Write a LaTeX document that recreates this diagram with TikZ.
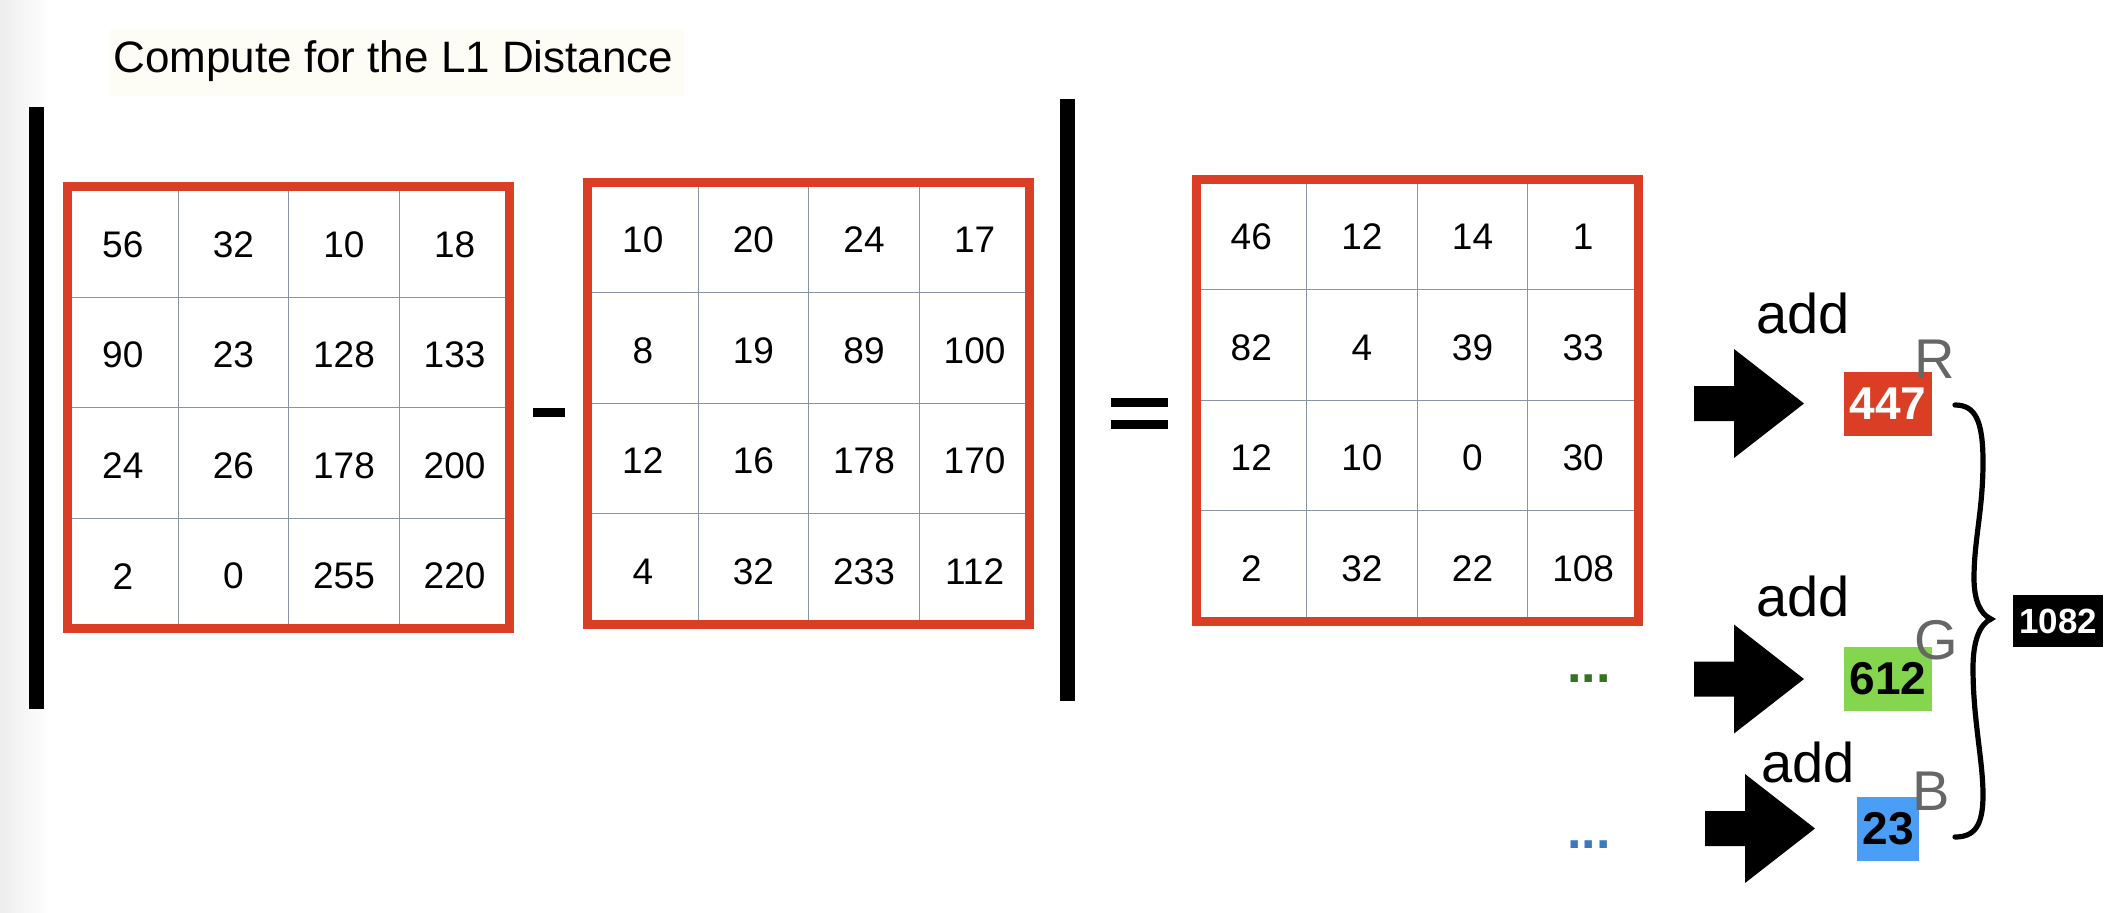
\documentclass[tikz,border=0pt]{standalone}
\usepackage{fontspec}
\setmainfont{Liberation Sans}
\definecolor{mred}{HTML}{DA3F26}
\definecolor{gridc}{HTML}{8A95A4}
\definecolor{boxgreen}{HTML}{84D64E}
\definecolor{boxblue}{HTML}{4A9EF5}
\definecolor{dotgreen}{HTML}{347320}
\definecolor{dotblue}{HTML}{3A78C0}
\definecolor{lblgray}{HTML}{666666}
\definecolor{titlebg}{HTML}{FDFDF5}
\tikzset{
  cellnum/.style={inner sep=0pt, font=\fontsize{18.5}{22}\selectfont},
  gridline/.style={gridc, line width=0.6pt},
  redframe/.style={mred, line width=4.5pt},
  addlbl/.style={inner sep=0pt, anchor=base west, font=\fontsize{28}{32}\selectfont},
  chlbl/.style={inner sep=0pt, anchor=base west, text=lblgray, font=\fontsize{28}{32}\selectfont},
  valbox/.style={inner sep=0pt, font=\bfseries\fontsize{23}{26}\selectfont},
  dotslbl/.style={inner sep=0pt, anchor=base west, font=\bfseries\fontsize{26}{30}\selectfont},
}
\newcommand\mymatrix[4]{%
  \foreach \k in {1,2,3}{%
    \draw[gridline] ({#2+\k*110.6},#3) -- ({#2+\k*110.6},{#3+442.4});
    \draw[gridline] (#2,{#3+\k*110.6}) -- ({#2+442.4},{#3+\k*110.6});
  }
  \foreach \v [count=\i from 0] in {#4}{%
    \pgfmathtruncatemacro\rr{floor(\i/4)}%
    \pgfmathtruncatemacro\cc{\i-4*\rr}%
    \node[cellnum] (#1-\rr-\cc) at ({#2+(\cc+0.5)*110.6},{#3+(\rr+0.5)*110.6+2.5}) {\v};
  }
  \draw[redframe] (#2,#3) rectangle ({#2+442.4},{#3+442.4});
}
\newcommand\blockarrow[2]{%
  \fill (#1,{#2-17.5}) -- ({#1+40},{#2-17.5}) -- ({#1+40},{#2-54.5}) -- ({#1+110},#2)
     -- ({#1+40},{#2+54.5}) -- ({#1+40},{#2+17.5}) -- (#1,{#2+17.5}) -- cycle;
}
\begin{document}
\begin{tikzpicture}[x=0.5pt,y=-0.5pt]
\useasboundingbox (0,0) rectangle (2110,912);
\fill[white] (0,0) rectangle (2110,912);
\shade[left color=black!7, right color=white] (0,0) rectangle (50,912);

% title
\fill[titlebg] (110,30) rectangle (684,96);
\node[inner sep=0pt, anchor=base west, font=\fontsize{22}{26}\selectfont] (title) at (113,72.5) {Compute for the L1 Distance};

% absolute value bars
\fill (28.5,106.5) rectangle (43.5,708.5);
\fill (1060.4,99.2) rectangle (1075,701.2);

% minus and equals
\fill (533,408) rectangle (565,417);
\fill (1111,398.4) rectangle (1168,406.5);
\fill (1111,419.6) rectangle (1168,429);

% matrices
\mymatrix{ma}{67.5}{186.5}{56,32,10,18,90,23,128,133,24,26,178,200,2,0,255,220}
\mymatrix{mb}{587.5}{182}{10,20,24,17,8,19,89,100,12,16,178,170,4,32,233,112}
\mymatrix{mc}{1196}{179}{46,12,14,1,82,4,39,33,12,10,0,30,2,32,22,108}

% dots
\node[dotslbl, text=dotgreen] (dotsG) at (1567,682.7) {...};
\node[dotslbl, text=dotblue] (dotsB) at (1567,848.7) {...};

% block arrows
\blockarrow{1694}{403.5}
\blockarrow{1694}{679}
\blockarrow{1705}{828.5}

% add labels
\node[addlbl] (addR) at (1756,333) {add};
\node[addlbl] (addG) at (1756,616) {add};
\node[addlbl] (addB) at (1761,782.7) {add};

% value boxes
\node[valbox, fill=mred, text=white, minimum width=44pt, minimum height=32pt] (sumR) at (1887.8,403.7) {447};
\node[valbox, fill=boxgreen, text=black, minimum width=44pt, minimum height=32pt] (sumG) at (1888,679) {612};
\node[valbox, fill=boxblue, text=black, minimum width=31pt, minimum height=32pt] (sumB) at (1888,828.7) {23};

% channel labels
\node[chlbl] (lblR) at (1914.5,378) {R};
\node[chlbl] (lblG) at (1914,659) {G};
\node[chlbl] (lblB) at (1912.5,810) {B};

% brace
\draw[line width=2.6pt, line cap=round]
  (1955,405) .. controls (1975,405) and (1983,420) .. (1983,462)
  .. controls (1983,510) and (1974,540) .. (1974,578)
  .. controls (1974,600) and (1980,614) .. (1991,619)
  .. controls (1980,624) and (1973,640) .. (1973,668)
  .. controls (1973,720) and (1983,760) .. (1983,795)
  .. controls (1983,825) and (1975,837) .. (1955,837);

% total
\node[valbox, fill=black, text=white, minimum width=45pt, minimum height=26pt, font=\bfseries\fontsize{17.5}{20}\selectfont] (total) at (2058,621) {1082};
\end{tikzpicture}
\end{document}
